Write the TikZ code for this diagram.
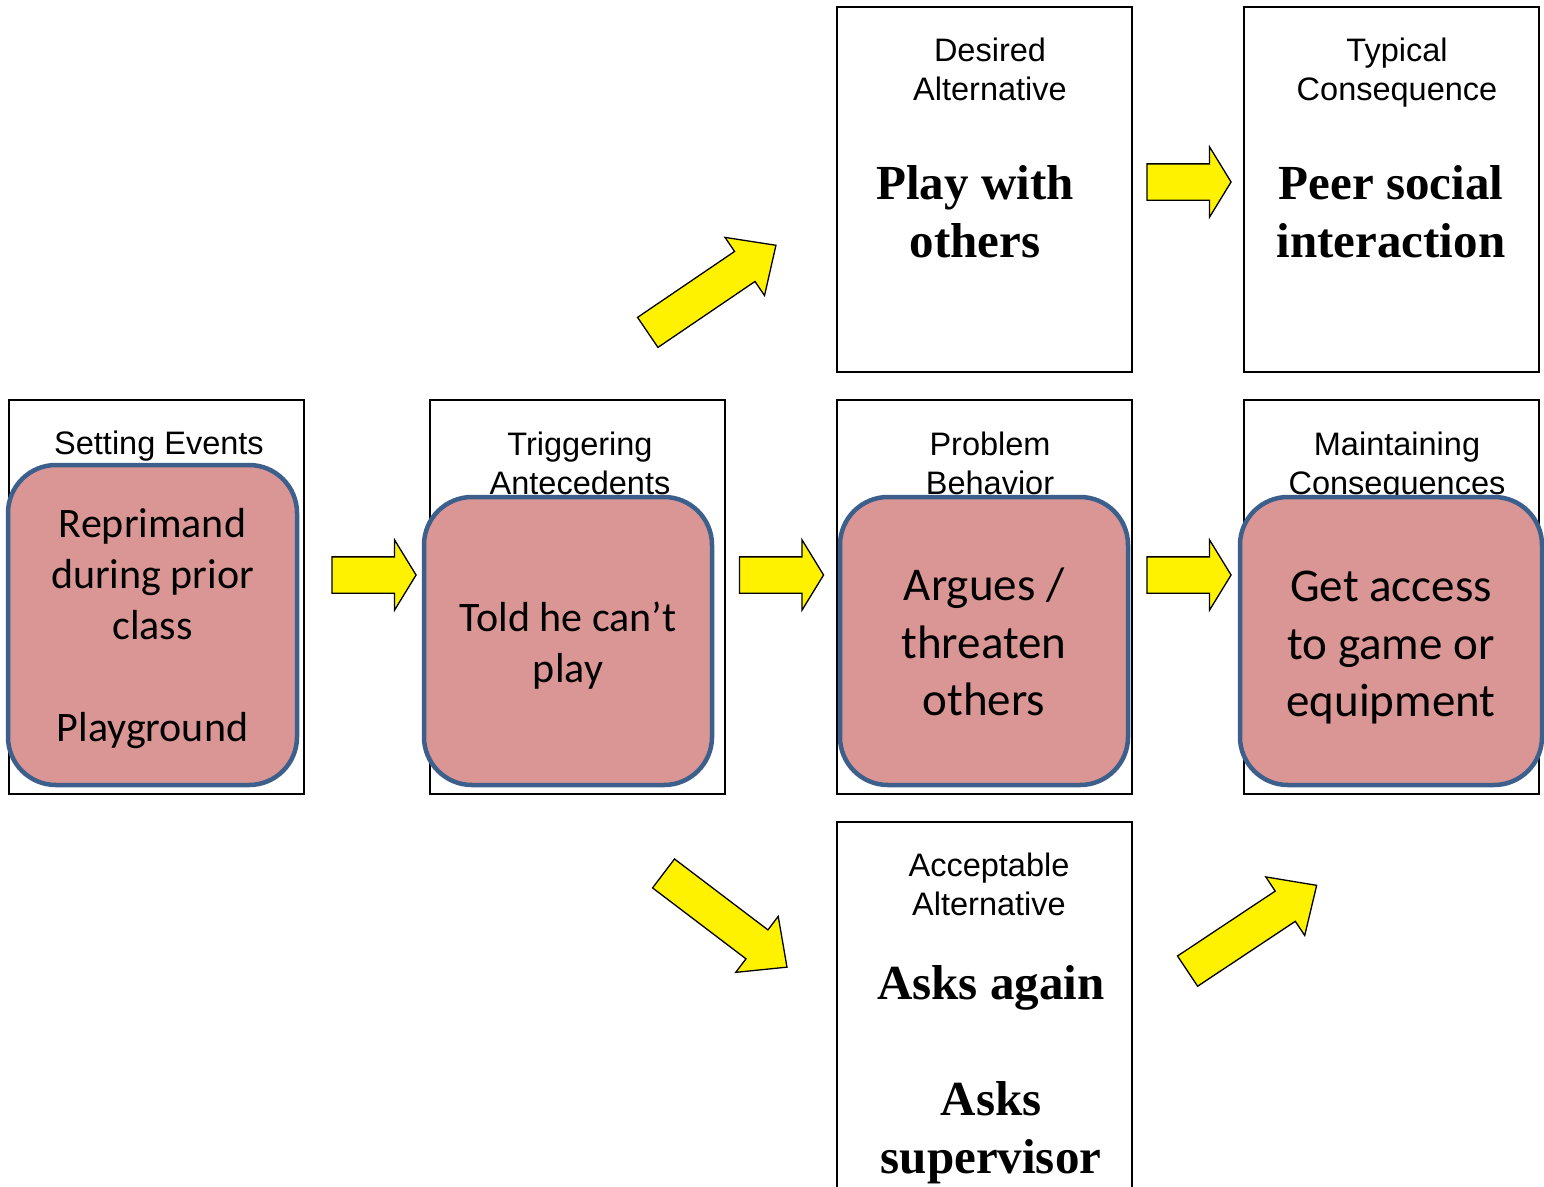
\documentclass[tikz,border=0pt]{standalone}
\usepackage{fontspec}
\newfontfamily\headfont{Liberation Sans}
\newfontfamily\boxfont{Carlito}
\newfontfamily\altfont{Liberation Serif}
\usetikzlibrary{shapes.arrows,positioning}
\definecolor{boxpink}{HTML}{D99694}
\definecolor{boxblue}{HTML}{3C5F8C}
\tikzset{
	frame/.style={
		rectangle,
		draw=black,
		line width=1.4pt,
		minimum width=295pt,
		minimum height=394pt,
		inner sep=0pt,
		outer sep=0pt,
	},
	title/.style={
		font=\headfont\fontsize{32.5}{39}\selectfont,
		align=center,
		anchor=base,
		inner sep=0pt,
	},
	behav/.style={
		rectangle,
		rounded corners=48pt,
		draw=boxblue,
		fill=boxpink,
		line width=4.5pt,
		minimum width=288pt,
		minimum height=288pt,
		inner sep=0pt,
	},
	small/.style={
		font=\boxfont\fontsize{42}{51}\selectfont,
		align=center,
		inner sep=0pt,
	},
	big/.style={
		font=\boxfont\fontsize{47}{57.5}\selectfont,
		align=center,
		inner sep=0pt,
	},
	alt/.style={
		font=\altfont\bfseries\fontsize{49}{58}\selectfont,
		align=center,
		anchor=base,
		inner sep=0pt,
	},
	yarrow/.style={
		single arrow,
		draw=black,
		fill=yellow,
		line width=1.3pt,
		inner xsep=0pt,
		inner ysep=17.5pt,
		minimum width=0pt,
		single arrow head extend=17pt,
		outer sep=0pt,
	},
	flat/.style={
		yarrow,
		minimum height=84pt,
		single arrow tip angle=117,
	},
	slant/.style={
		yarrow,
		minimum height=155pt,
		single arrow tip angle=86,
	}
}

\begin{document}
\begin{tikzpicture}[x=1pt,y=-1pt]
	\useasboundingbox (0,0) rectangle (1544,1186);
	\clip (0,0) rectangle (1544,1186);

	% white frames
	\node [frame] (set) at (156.5,597) {};
	\node [frame, right=126pt of set] (trig) {};
	\node [frame, right=112pt of trig] (prob) {};
	\node [frame, right=112pt of prob] (maint) {};
	\node [frame, above=28pt of prob, minimum height=365pt] (des) {};
	\node [frame, above=28pt of maint, minimum height=365pt] (typ) {};
	\node [frame, below=28pt of prob, minimum height=400pt] (acc) {};

	% headings
	\node [title] (setT) at (159,454) {Setting Events};
	\node [title] (trigT) at (580,494.5) {Triggering\\Antecedents};
	\node [title] (probT) at (990,494.5) {Problem\\Behavior};
	\node [title] (maintT) at (1397,494.5) {Maintaining\\Consequences};
	\node [title] (desT) at (990,100.5) {Desired\\Alternative};
	\node [title] (typT) at (1397,100.5) {Typical\\Consequence};
	\node [title] (accT) at (989,915.5) {Acceptable\\Alternative};

	% behaviour boxes
	\node [behav, minimum width=289pt, minimum height=320pt] (setB) at (152.5,625) {};
	\node [behav] (trigB) at (568,641) {};
	\node [behav] (probB) at (984,641) {};
	\node [behav, minimum width=302pt] (maintB) at (1391,641) {};
	\node [small] (setX) at ([yshift=-4pt]setB.center)
		{Reprimand\\during prior\\class\\[51pt]Playground};
	\node [small] (trigX) at ([yshift=-5pt]trigB.center) {Told he can’t\\play};
	\node [big] (probX) at ([yshift=-1pt]probB.center) {Argues /\\threaten\\others};
	\node [big] (maintX) at ([yshift=-7pt]maintB.center) {Get access\\to game or\\equipment};

	% alternatives
	\node [alt] (desA) at (975,257) {Play with\\others};
	\node [alt] (typA) at (1391,257) {Peer social\\interaction};
	\node [alt] (accA) at (991,1173) {Asks again\\[58pt]Asks\\supervisor};

	% arrows
	\node [flat] (a1) at (368.5,575) {};
	\node [flat] (a2) at (776,575) {};
	\node [flat] (a3) at (1183.5,575) {};
	\node [flat] (a4) at (1183.5,182) {};
	\node [slant, rotate=34.2] (up1) at (703.8,294.3) {};
	\node [slant, rotate=-37.2] (dn1) at (717.5,914.4) {};
	\node [slant, rotate=33.6] (up2) at (1244,933.6) {};
\end{tikzpicture}
\end{document}
